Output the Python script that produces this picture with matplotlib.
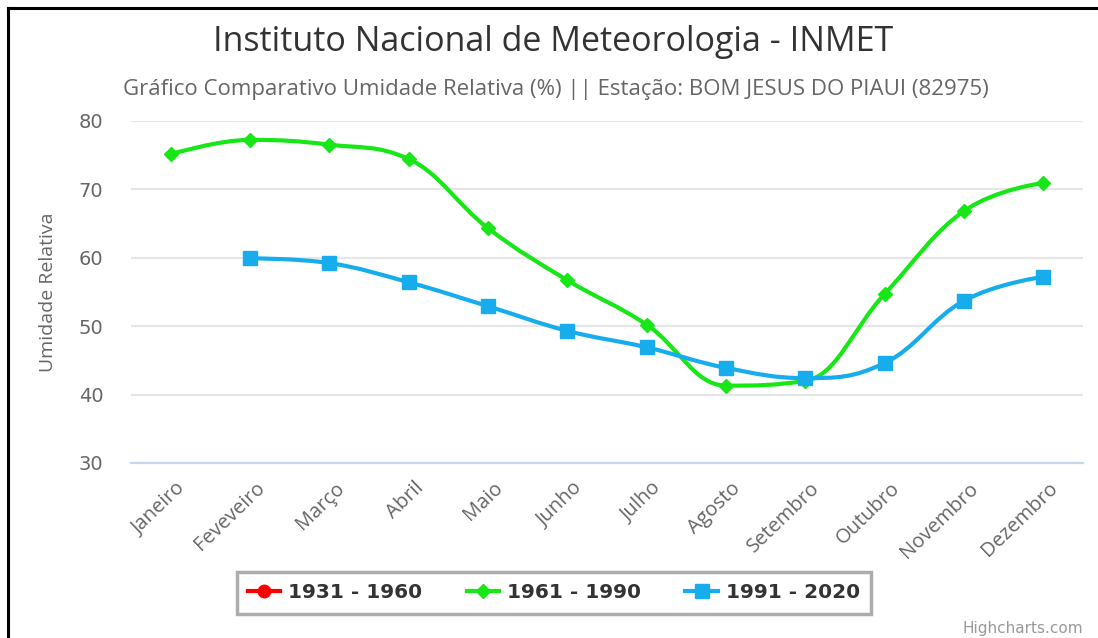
import matplotlib
matplotlib.use("Agg")
import matplotlib.pyplot as plt
import matplotlib.transforms as mtransforms
from matplotlib.path import Path
from matplotlib.patches import PathPatch
from matplotlib.lines import Line2D

months = ["Janeiro", "Feveveiro", "Março", "Abril", "Maio", "Junho", "Julho",
          "Agosto", "Setembro", "Outubro", "Novembro", "Dezembro"]
ur_1931_1960 = [None] * 12
ur_1961_1990 = [75.1, 77.2, 76.5, 74.4, 64.3, 56.7, 50.2, 41.3, 42.0, 54.7, 66.8, 70.9]
ur_1991_2020 = [None, 59.9, 59.2, 56.4, 52.9, 49.3, 46.9, 43.9, 42.4, 44.6, 53.7, 57.2]

W, H = 1098, 638


def spline_path(xs, ys, smoothing=1.5):
    """Highcharts-style spline through the points, as a bezier path."""
    denom = smoothing + 1
    n = len(xs)
    right = [None] * n
    left = [None] * n
    for i in range(n):
        x, y = xs[i], ys[i]
        if 0 < i < n - 1:
            lx, ly = xs[i - 1], ys[i - 1]
            nx, ny = xs[i + 1], ys[i + 1]
            lcx = (smoothing * x + lx) / denom
            lcy = (smoothing * y + ly) / denom
            rcx = (smoothing * x + nx) / denom
            rcy = (smoothing * y + ny) / denom
            if rcx != lcx:
                corr = (rcy - lcy) * (rcx - x) / (rcx - lcx) + y - rcy
                lcy += corr
                rcy += corr
            if lcy > ly and lcy > y:
                lcy = max(ly, y)
                rcy = 2 * y - lcy
            elif lcy < ly and lcy < y:
                lcy = min(ly, y)
                rcy = 2 * y - lcy
            if rcy > ny and rcy > y:
                rcy = max(ny, y)
                lcy = 2 * y - rcy
            elif rcy < ny and rcy < y:
                rcy = min(ny, y)
                lcy = 2 * y - rcy
            left[i] = (lcx, lcy)
            right[i] = (rcx, rcy)
        else:
            left[i] = (x, y)
            right[i] = (x, y)
    verts = [(xs[0], ys[0])]
    codes = [Path.MOVETO]
    for i in range(1, n):
        verts += [right[i - 1], left[i], (xs[i], ys[i])]
        codes += [Path.CURVE4] * 3
    return Path(verts, codes)


fig = plt.figure(figsize=(W / 100, H / 100), dpi=100)
ax = fig.add_axes([131 / W, 1 - 463 / H, (1083 - 131) / W, (463 - 120.7) / H])

series = [
    ("1931 - 1960", ur_1931_1960, "#ff0000", "o", 9),
    ("1961 - 1990", ur_1961_1990, "#17e617", "D", 7.5),
    ("1991 - 2020", ur_1991_2020, "#17aded", "s", 9.5),
]

handles = []
for label, vals, color, marker, ms in series:
    pts = [(i, v) for i, v in enumerate(vals) if v is not None]
    if len(pts) > 1:
        xs = [p[0] for p in pts]
        ys = [p[1] for p in pts]
        ax.add_patch(PathPatch(spline_path(xs, ys), fill=False, edgecolor=color,
                               lw=3, zorder=3, capstyle="round"))
        ax.plot(xs, ys, ls="none", marker=marker, ms=ms, color=color, zorder=4)
    handles.append(Line2D([], [], color=color, lw=3, marker=marker, ms=ms))

ax.set_xlim(-0.5, 11.5)
ax.set_ylim(30, 80)
ax.set_yticks(range(30, 81, 10))
ax.set_xticks(range(12))
ax.set_xticklabels(months, rotation=44, ha="right", rotation_mode="anchor",
                   family="Open Sans", fontsize=14.5, color="#666666")
ax.tick_params(axis="x", length=0, pad=11)
ax.tick_params(axis="y", length=0, pad=20, labelsize=14, labelcolor="#666666")
for s in ["top", "right", "left"]:
    ax.spines[s].set_visible(False)
ax.spines["bottom"].set_color("#ccd6eb")
ax.spines["bottom"].set_linewidth(1.6)
ax.grid(axis="y", color="#e6e6e6", lw=1.5)
ax.set_axisbelow(True)

# shift rotated month labels so their ends sit just right of each tick
offset = mtransforms.ScaledTranslation(5 / 100, 0, fig.dpi_scale_trans)
for lab in ax.get_xticklabels():
    lab.set_transform(lab.get_transform() + offset)

fig.text(48 / W, 1 - 292 / H, "Umidade Relativa", rotation=90, ha="center",
         va="center", family="Open Sans", fontsize=14, color="#666666")

fig.text(553 / W, 1 - 42 / H, "Instituto Nacional de Meteorologia - INMET",
         ha="center", va="center", family="Open Sans", fontsize=24.5, color="#333333")
fig.text(556 / W, 1 - 90 / H,
         "Gráfico Comparativo Umidade Relativa (%) || Estação: BOM JESUS DO PIAUI (82975)",
         ha="center", va="center", family="Open Sans", fontsize=16, color="#666666")

leg = fig.legend(handles, [s[0] for s in series], loc="center",
                 bbox_to_anchor=(554 / W, 1 - 593 / H), ncol=3, frameon=True,
                 fancybox=False, edgecolor="#999999", handlelength=1.6,
                 handletextpad=0.4, columnspacing=2.2, borderpad=0.55,
                 prop={"family": "DejaVu Sans", "weight": "bold", "size": 14.5})
leg.get_frame().set_linewidth(2.5)
for t in leg.get_texts():
    t.set_color("#333333")

fig.text(1083 / W, 1 - 628 / H, "Highcharts.com", ha="right", va="center",
         fontsize=11, color="#999999")

# screenshot frame (left and top edges)
fig.add_artist(Line2D([8 / W, 8 / W], [0, 1 - 8 / H], color="black", lw=2.2,
                      transform=fig.transFigure))
fig.add_artist(Line2D([8 / W, 1], [1 - 8 / H, 1 - 8 / H], color="black", lw=2.2,
                      transform=fig.transFigure))

fig.savefig("out.png", dpi=100)
